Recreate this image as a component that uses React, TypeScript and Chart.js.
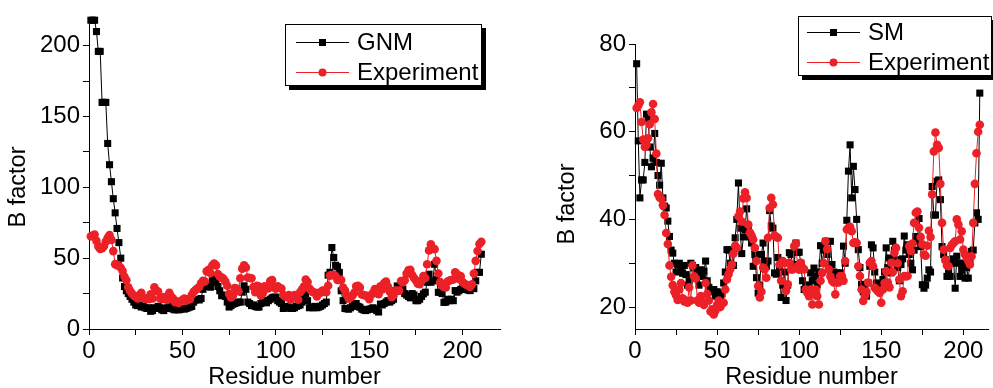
import React, { useEffect, useRef } from 'react';
import { Chart, registerables } from 'chart.js';

Chart.register(...registerables);

// Residue numbers 1..210
const residues: number[] = Array.from({ length: 210 }, (_, i) => i + 1);

const gnm: number[] = [
  218, 218, 218, 210, 196, 196, 160, 160, 160, 131,
  116, 104, 92, 82, 71, 61, 50, 36, 30, 27,
  25, 23, 21, 19, 17, 16.5, 17, 15.5, 16, 15,
  14.5, 15, 12.5, 13, 15, 14.5, 16, 15, 13.5, 13,
  14.5, 15, 16, 14.5, 14, 13.5, 14, 13.5, 14, 14.5,
  14, 14.5, 15, 15.5, 16, 19, 20.5, 21, 20.5, 21.5,
  28, 31, 30, 31, 29.5, 34, 36.5, 33, 30, 27,
  23.5, 24, 23, 19, 15.5, 16.5, 17.5, 18, 18.5, 19,
  19, 26, 30.5, 28, 19, 18, 16.5, 17, 16, 15.5,
  15.5, 18, 20, 19.5, 18.5, 20, 21, 22, 22.5, 22.5,
  20, 19, 18, 14.5, 16, 15.5, 15, 14.5, 14.5, 15,
  16, 16.5, 17, 19, 22, 25, 20, 15, 15.5, 15,
  16, 15, 15.5, 16, 17, 18, 19, 38, 40, 57.5,
  50.5, 45, 44, 40, 27, 20, 14.5, 14.3, 14, 15,
  16, 17.6, 18, 16, 15.4, 14, 13.5, 13, 13.5, 14,
  14.3, 15, 14, 13, 12, 17.6, 17, 18, 19, 20,
  19, 20, 21, 27, 30.4, 29, 27, 28, 25, 24,
  23, 22, 25, 24, 20, 20, 21, 23, 24.8, 26,
  33, 38.7, 33, 34, 45.7, 35, 25.9, 26, 25, 18.8,
  19, 21, 20, 21, 20, 27.1, 26, 27, 28, 29,
  28, 28, 27.5, 27.1, 29, 28.5, 34, 40, 40, 52.8,
];

const sm: number[] = [
  75.5, 57.9, 44.9, 49, 49, 53, 64, 63, 56.5, 52,
  54, 59.6, 53, 50, 47.8, 52.8, 44.9, 43, 42.6, 39.6,
  36.1, 33, 32.3, 30, 28, 29.7, 30, 28.5, 27.7, 29.5,
  27.4, 25, 26, 30, 29.5, 28.9, 29, 27.4, 25, 28.5,
  27, 28.2, 30.5, 26, 24.5, 23.9, 23.5, 24, 22.5, 23.5,
  23.2, 22.4, 23, 25.5, 28, 33.1, 33, 30, 33.1, 29.5,
  35.8, 40, 48.3, 38, 32.2, 36, 37.7, 42.4, 37.8, 36,
  34.6, 29.3, 32, 26.7, 23.2, 25, 32, 34.6, 30.5, 29.3,
  30.5, 42, 38.5, 38, 27.8, 27.5, 31.3, 29, 22.2, 25,
  28, 21.5, 25, 32.4, 32, 29, 29.7, 34.6, 32.5, 32.5,
  30, 26, 24, 25, 23.6, 25, 27.8, 26, 28.9, 27,
  25.1, 28, 34, 30, 33, 35, 32, 29, 35, 29.7,
  28, 26, 27.8, 27.5, 27.8, 26, 33.9, 30, 39.8, 51,
  57, 44.9, 52.1, 46.8, 40, 33.1, 29, 25.2, 23.5, 24,
  22.5, 25.5, 29.3, 34.2, 33.5, 28, 25.5, 24, 25.2, 25,
  26.3, 28, 33.5, 29, 31.2, 27.8, 35, 33, 30.8, 29,
  26, 29.7, 31, 36.2, 33, 34.2, 32, 30, 28.5, 33,
  36.1, 35, 40.2, 33.8, 25.1, 24.3, 25, 26.6, 28.5, 28,
  47.5, 41, 41, 48.7, 49, 44.5, 33.8, 32, 30.8, 27,
  28, 27, 30, 31, 24.3, 31.6, 30, 27, 28.5, 30,
  26.6, 29, 26.6, 30, 32.7, 33, 39.2, 41.5, 40, 68.8,
];

const experiment: number[] = [
  65.4, 66, 66.7, 62.2, 58.2, 56.5, 57, 58.5, 61.7, 64.4,
  66.3, 62.9, 55, 45.8, 45, 44.7, 43.2, 41, 36.9, 34.4,
  29.5, 26.9, 25, 23.5, 22.7, 21.6, 24, 25.5, 22, 21.3,
  21.5, 21, 24.5, 21.5, 29.5, 27, 26.5, 21.5, 21, 22.5,
  21, 20.5, 25.5, 23, 21.5, 19, 19.5, 18.3, 19.2, 20.5,
  21.5, 20, 20.9, 21, 24, 26.3, 27.5, 28.6, 29.7, 32.2,
  34, 33.5, 40.7, 41.8, 39.5, 44.8, 46.2, 44.9, 38.8, 37,
  36.3, 35.4, 33.5, 30.5, 24.8, 22.2, 23.5, 29, 28.6, 26.7,
  35.8, 42.6, 44.9, 43.4, 36.3, 36, 35.8, 29.7, 26, 30.5,
  30, 23.7, 25.2, 30.1, 28.6, 28.6, 33.9, 34.5, 29.3, 28.5,
  30.1, 29, 28.6, 24, 23.2, 22.5, 24, 20.6, 23, 24,
  22.5, 20.6, 26, 27.8, 30, 35, 33.2, 28.6, 27, 26,
  25.6, 22.9, 25.6, 25.6, 27.1, 27.1, 26, 30.5, 37.7, 38.1,
  38.3, 37.3, 34.6, 34.8, 34.6, 29.3, 27.1, 24, 21.4, 22.5,
  23.5, 25.6, 30.1, 30.5, 29.3, 24.4, 24, 23.6, 23.2, 21,
  24, 25.5, 28.2, 25.6, 24.5, 30.1, 28, 32.4, 33.5, 30,
  26.3, 22.5, 23.6, 27.1, 27, 27.1, 33.9, 32.8, 34.5, 39.2,
  41.5, 41.8, 38.1, 36, 34.3, 32, 31.7, 34, 37.4, 36,
  45.7, 55.5, 59.8, 57, 56.3, 48.1, 39.2, 33.1, 30.8, 29.5,
  29.3, 33.5, 34.2, 34.6, 35, 40, 38.8, 35.4, 37.3, 33.1,
  32, 31.2, 30.5, 29.7, 31.6, 39.2, 48.1, 55.1, 60, 61.6,
];

const xTicks: number[] = [0, 25, 50, 75, 100, 125, 150, 175, 200];
const xMajor: number[] = [0, 50, 100, 150, 200];
const leftYTicks: number[] = [0, 25, 50, 75, 100, 125, 150, 175, 200];
const leftYMajor: number[] = [0, 50, 100, 150, 200];
const rightYTicks: number[] = [20, 30, 40, 50, 60, 70, 80];
const rightYMajor: number[] = [20, 40, 60, 80];

const RED = 'rgb(236, 32, 39)';
const FONT = "'Liberation Sans', Arial, sans-serif";
const TICK_SIZE = 24;
const TITLE_SIZE = 23.5;

const boxLegend = {
  id: 'boxLegend',
  afterDraw(chart: any, _args: any, opts: any) {
    if (!opts || !opts.items) return;
    const ctx = chart.ctx as CanvasRenderingContext2D;
    const { x, y, w, h, shadow, rows, lineX1, lineX2, textX, fontSize } = opts;
    ctx.save();
    ctx.fillStyle = '#000';
    ctx.fillRect(x + shadow, y + shadow, w, h);
    ctx.fillStyle = '#fff';
    ctx.fillRect(x, y, w, h);
    ctx.strokeStyle = '#000';
    ctx.lineWidth = 1;
    ctx.strokeRect(x + 0.5, y + 0.5, w - 1, h - 1);
    opts.items.forEach((it: any, i: number) => {
      const yy = rows[i];
      ctx.strokeStyle = it.color;
      ctx.lineWidth = 1;
      ctx.beginPath();
      ctx.moveTo(lineX1, yy + 0.5);
      ctx.lineTo(lineX2, yy + 0.5);
      ctx.stroke();
      ctx.fillStyle = it.color;
      const cx = (lineX1 + lineX2) / 2;
      if (it.shape === 'rect') {
        ctx.fillRect(cx - 3.5, yy - 3, 7, 7);
      } else {
        ctx.beginPath();
        ctx.arc(cx, yy + 0.5, 4, 0, Math.PI * 2);
        ctx.fill();
      }
      ctx.fillStyle = '#000';
      ctx.font = `${fontSize}px ${FONT}`;
      ctx.textBaseline = 'middle';
      ctx.textAlign = 'left';
      ctx.fillText(it.label, textX, yy + 1);
    });
    ctx.restore();
  },
};

const yTitle = {
  id: 'yTitle',
  afterDraw(chart: any, _args: any, opts: any) {
    if (!opts || !opts.text) return;
    const ctx = chart.ctx as CanvasRenderingContext2D;
    ctx.save();
    ctx.translate(opts.x, opts.y);
    ctx.rotate(-Math.PI / 2);
    ctx.fillStyle = '#000';
    ctx.font = `${opts.fontSize}px ${FONT}`;
    ctx.textAlign = 'center';
    ctx.textBaseline = 'middle';
    ctx.fillText(opts.text, 0, 0);
    ctx.restore();
  },
};

function makeConfig(p: any): any {
  const model = p.model;
  return {
    type: 'scatter',
    data: {
      datasets: [
        {
          label: p.modelLabel,
          data: residues.map((r, i) => ({ x: r, y: model[i] })),
          showLine: true,
          borderColor: '#000',
          borderWidth: 1,
          backgroundColor: '#000',
          pointStyle: 'rect',
          pointRadius: 5,
          pointBorderWidth: 0,
          pointBackgroundColor: '#000',
          clip: false,
          order: 2,
        },
        {
          label: 'Experiment',
          data: residues.map((r, i) => ({ x: r, y: experiment[i] })),
          showLine: true,
          borderColor: RED,
          borderWidth: 1,
          backgroundColor: RED,
          pointStyle: 'circle',
          pointRadius: 4.3,
          pointBorderWidth: 0,
          pointBackgroundColor: RED,
          clip: false,
          order: 1,
        },
      ],
    },
    options: {
      responsive: false,
      animation: false,
      events: [],
      layout: { padding: p.padding },
      plugins: {
        legend: { display: false },
        tooltip: { enabled: false },
        boxLegend: p.legend,
        yTitle: p.yTitle,
      },
      scales: {
        x: {
          type: 'linear',
          min: 0,
          max: p.xMax,
          afterBuildTicks: (s: any) => {
            s.ticks = xTicks.map((v) => ({ value: v }));
          },
          afterFit: (s: any) => {
            s.height = 59;
          },
          ticks: {
            autoSkip: false,
            maxRotation: 0,
            color: '#000',
            padding: 2,
            font: { family: FONT, size: TICK_SIZE },
            callback: (v: number) => (xMajor.includes(v) ? String(v) : ''),
          },
          grid: {
            display: true,
            drawOnChartArea: false,
            drawTicks: true,
            tickLength: 6,
            color: '#000',
            lineWidth: 1,
          },
          border: { display: true, color: '#000', width: 1 },
          title: {
            display: true,
            text: 'Residue number',
            color: '#000',
            font: { family: FONT, size: TITLE_SIZE, lineHeight: 1 },
            padding: { top: 0, bottom: -1 },
          },
        },
        y: {
          type: 'linear',
          min: p.yMin,
          max: p.yMax,
          afterBuildTicks: (s: any) => {
            s.ticks = p.yTicks.map((v: number) => ({ value: v }));
          },
          afterFit: (s: any) => {
            s.width = p.yWidth;
          },
          ticks: {
            autoSkip: false,
            color: '#000',
            padding: 3,
            font: { family: FONT, size: TICK_SIZE },
            callback: (v: number) => (p.yMajor.includes(v) ? String(v) : ''),
          },
          grid: {
            display: true,
            drawOnChartArea: false,
            drawTicks: true,
            tickLength: 6,
            color: '#000',
            lineWidth: 1,
          },
          border: { display: true, color: '#000', width: 1 },
          title: { display: false },
        },
      },
    },
    plugins: [boxLegend, yTitle],
  };
}

function Panel(props: { config: any; left: number; width: number }) {
  const ref = useRef<HTMLCanvasElement | null>(null);
  useEffect(() => {
    if (!ref.current) return;
    const chart = new Chart(ref.current, props.config);
    return () => chart.destroy();
  }, []);
  return (
    <canvas
      ref={ref}
      width={props.width}
      height={388}
      style={{ position: 'absolute', left: props.left, top: 0, width: props.width, height: 388 }}
    />
  );
}

const leftConfig = makeConfig({
  model: gnm,
  modelLabel: 'GNM',
  xMax: 220,
  yMin: 0,
  yMax: 220,
  yTicks: leftYTicks,
  yMajor: leftYMajor,
  yWidth: 89,
  padding: { left: 0, right: 10, top: 15, bottom: 0 },
  yTitle: { text: 'B factor', x: 19, y: 187, fontSize: TITLE_SIZE },
  legend: {
    x: 285, y: 24, w: 197, h: 62, shadow: 4,
    rows: [42, 72], lineX1: 296, lineX2: 349, textX: 357, fontSize: 24,
    items: [
      { label: 'GNM', color: '#000', shape: 'rect' },
      { label: 'Experiment', color: RED, shape: 'circle' },
    ],
  },
});

const rightConfig = makeConfig({
  model: sm,
  modelLabel: 'SM',
  xMax: 215,
  yMin: 15,
  yMax: 80,
  yTicks: rightYTicks,
  yMajor: rightYMajor,
  yWidth: 135,
  padding: { left: 0, right: 0, top: 44, bottom: 0 },
  yTitle: { text: 'B factor', x: 68, y: 204, fontSize: TITLE_SIZE },
  legend: {
    x: 298, y: 16, w: 194, h: 60, shadow: 4,
    rows: [32, 62], lineX1: 307, lineX2: 360, textX: 368, fontSize: 24,
    items: [
      { label: 'SM', color: '#000', shape: 'rect' },
      { label: 'Experiment', color: RED, shape: 'circle' },
    ],
  },
});

export default function App() {
  return (
    <div style={{ position: 'absolute', left: 0, top: 0, width: 993, height: 388, background: '#fff', overflow: 'hidden' }}>
      <Panel config={leftConfig} left={0} width={510} />
      <Panel config={rightConfig} left={500} width={493} />
    </div>
  );
}
